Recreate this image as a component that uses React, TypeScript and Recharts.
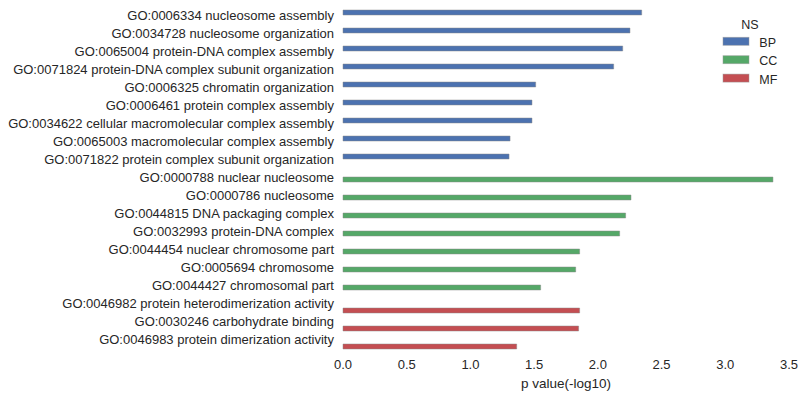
import React from 'react';
import { BarChart, Bar, XAxis, YAxis, Legend, Label } from 'recharts';

const terms: string[] = [
  'GO:0006334 nucleosome assembly',
  'GO:0034728 nucleosome organization',
  'GO:0065004 protein-DNA complex assembly',
  'GO:0071824 protein-DNA complex subunit organization',
  'GO:0006325 chromatin organization',
  'GO:0006461 protein complex assembly',
  'GO:0034622 cellular macromolecular complex assembly',
  'GO:0065003 macromolecular complex assembly',
  'GO:0071822 protein complex subunit organization',
  'GO:0000788 nuclear nucleosome',
  'GO:0000786 nucleosome',
  'GO:0044815 DNA packaging complex',
  'GO:0032993 protein-DNA complex',
  'GO:0044454 nuclear chromosome part',
  'GO:0005694 chromosome',
  'GO:0044427 chromosomal part',
  'GO:0046982 protein heterodimerization activity',
  'GO:0030246 carbohydrate binding',
  'GO:0046983 protein dimerization activity',
];

const nsGroups: string[] = [
  'BP', 'BP', 'BP', 'BP', 'BP', 'BP', 'BP', 'BP', 'BP',
  'CC', 'CC', 'CC', 'CC', 'CC', 'CC', 'CC',
  'MF', 'MF', 'MF',
];

const pValues: number[] = [
  2.344, 2.252, 2.195, 2.124, 1.512, 1.483, 1.483, 1.311, 1.303,
  3.374, 2.26, 2.218, 2.171, 1.857, 1.826, 1.551,
  1.857, 1.849, 1.363,
];

const nsNames: string[] = ['BP', 'CC', 'MF'];
const nsColors: string[] = ['#4C72B0', '#55A868', '#C44E52'];

const xTicks: number[] = [0, 0.5, 1, 1.5, 2, 2.5, 3, 3.5];

const data = terms.map((term, i) => {
  const row: Record<string, any> = { term };
  nsNames.forEach((ns) => {
    row[ns] = nsGroups[i] === ns ? pValues[i] : null;
  });
  return row;
});

const FONT = '"Liberation Sans", Arial, sans-serif';
const TEXT = '#262626';

const YTick = (props: any) => {
  const { x, y, payload } = props;
  return (
    <text x={x} y={y} dy={2.7} textAnchor="end" fontSize={13} fill={TEXT} fontFamily={FONT}>
      {payload.value}
    </text>
  );
};

const LegendContent = () => (
  <svg width={90} height={80} style={{ overflow: 'visible' }}>
    <text x={35} y={18.5} textAnchor="middle" fontSize={12.5} fill={TEXT} fontFamily={FONT}>NS</text>
    {nsNames.map((ns, i) => (
      <g key={ns}>
        <rect x={8} y={27.3 + i * 18.4} width={26} height={8} fill={nsColors[i]} stroke="#999" strokeOpacity={0.6} strokeWidth={0.8} />
        <text x={44.3} y={36.7 + i * 18.4} fontSize={12.5} fill={TEXT} fontFamily={FONT}>{ns}</text>
      </g>
    ))}
  </svg>
);

export default function App() {
  return (
    <div style={{ position: 'absolute', left: 0, top: 0, width: 805, height: 397, background: '#fff' }}>
      <BarChart
        width={805}
        height={397}
        data={data}
        layout="vertical"
        margin={{ top: 8, right: 16, bottom: 0, left: 0 }}
        barGap={0}
      >
        <XAxis
          type="number"
          domain={[0, 3.5]}
          ticks={xTicks}
          tickFormatter={(v: number) => v.toFixed(1)}
          axisLine={false}
          tickLine={false}
          tickSize={0}
          tickMargin={10}
          height={47}
          tick={{ fontSize: 13, fill: TEXT, fontFamily: FONT }}
        >
          <Label value="p value(-log10)" position="insideBottom" offset={9} fontSize={13.5} fill={TEXT} fontFamily={FONT} />
        </XAxis>
        <YAxis
          type="category"
          dataKey="term"
          width={343}
          axisLine={false}
          tickLine={false}
          tickSize={0}
          tickMargin={9}
          interval={0}
          tick={<YTick />}
        />
        <Legend
          layout="horizontal"
          verticalAlign="middle"
          align="center"
          wrapperStyle={{ position: 'absolute', left: 715, top: 10, width: 90, height: 80 }}
          content={<LegendContent />}
        />
        {nsNames.map((ns, i) => (
          <Bar
            key={ns}
            dataKey={ns}
            fill={nsColors[i]}
            stroke="#888"
            strokeOpacity={0.6}
            strokeWidth={0.8}
            barSize={5}
            isAnimationActive={false}
          />
        ))}
      </BarChart>
    </div>
  );
}
